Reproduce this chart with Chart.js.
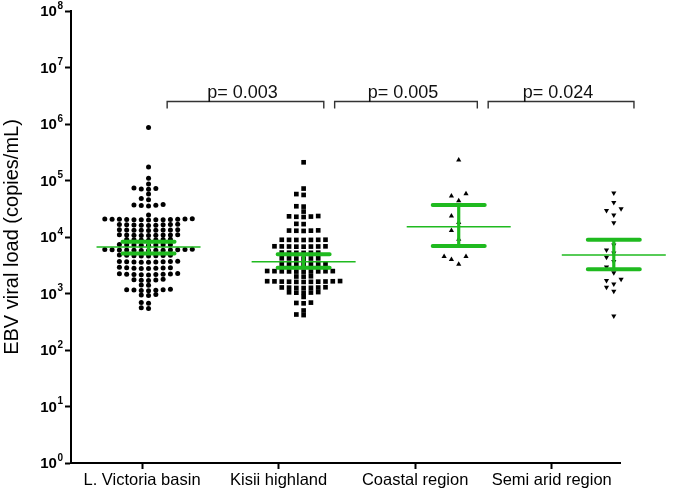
<!DOCTYPE html>
<html>
<head>
<meta charset="utf-8">
<script src="https://cdn.jsdelivr.net/npm/chart.js@4.4.1/dist/chart.umd.min.js"></script>
<style>
html,body{margin:0;padding:0;background:#fff;}
#wrap{width:695px;height:492px;}
</style>
</head>
<body>
<div id="wrap"><canvas id="chart" width="695" height="492"></canvas></div>
<script>
// ---------- data ----------
const regions = ["L. Victoria basin", "Kisii highland", "Coastal region", "Semi arid region"];

const victoriaBasin = [
  540, 560, 670, 690, 920, 940, 960,
  1120, 1130, 1140, 1150, 1160, 1170, 1190, 1400, 1420,
  1700, 1720, 1740, 1760, 1780,
  2130, 2150, 2170, 2180, 2190, 2200, 2220, 2240, 2260,
  2760, 2780, 2800, 2810, 2830, 2850, 2870, 2900,
  3560, 3580, 3600, 3610, 3630, 3650, 3670, 3690, 3720,
  4600, 4630, 4660, 4680, 4700, 4730, 4760, 4800,
  5750, 5780, 5800, 5830, 5850, 5870, 5890, 5910, 5940, 5960, 5990, 6020, 6050,
  7150, 7180, 7200, 7230, 7260, 7290, 7320, 7350,
  8800, 8850, 8900, 8950, 9000, 9050, 9100,
  10600, 10650, 10700, 10750, 10800, 10850, 10900, 10950, 11000,
  13000, 13100, 13150, 13200, 13250, 13300, 13350, 13400, 13500,
  16000, 16100, 16200, 16300, 16400, 16500, 16600, 16700, 16800,
  20000, 20100, 20200, 20250, 20300, 20400, 20500, 20600, 20650, 20700, 20800, 20900, 21000,
  24500, 35500, 36000, 36500, 37000, 37500, 45700, 47900, 57500,
  70000, 71000, 72500, 74000, 87000, 110000, 174000, 870000
];

const kisiiHighland = [
  415, 425, 500, 670, 680, 690, 870,
  1030, 1035, 1040, 1050, 1060,
  1250, 1255, 1260, 1270, 1275, 1280, 1290,
  1600, 1605, 1610, 1615, 1620, 1625, 1630, 1640, 1645, 1650, 1660,
  1990, 2000, 2020,
  2440, 2445, 2450, 2460, 2465, 2470, 2480, 2485, 2490, 2500,
  3280, 3290, 3300, 3310, 3320, 3330, 3340,
  4150, 4160, 4170, 4180, 4190, 4200,
  5230, 5240, 5250, 5270, 5280, 5300,
  6740, 6750, 6770, 6790, 6800, 6820, 6840, 6850,
  8850, 8870, 8880, 8900, 8920, 8930, 8950,
  12800, 12900, 12950, 13000, 13100,
  16900, 17100,
  22600, 22800, 23000, 23200, 23500,
  28200, 34500, 35000, 55500, 57500, 72000, 210000
];

const coastalRegion = [3300, 4000, 4500, 4500, 9100, 13000, 18000, 23500, 44000, 53000, 58000, 230000];

const semiAridRegion = [
  400, 1100, 1290, 1480, 1700, 1780, 2340, 2950, 3700, 4400,
  5200, 5900, 7200, 17800, 24500, 29500, 31600, 40700, 60000
];

const groupMeans = [6650, 3650, 15200, 4800];
const ciUpper = [8260, 4940, 37000, 8900];
const ciLower = [5130, 2860, 6900, 2700];

const pValues = ["p= 0.003", "p= 0.005", "p= 0.024"];

const yTickValues = [1, 10, 100, 1000, 10000, 100000, 1000000, 10000000, 100000000];
const yTickExponents = ["0", "1", "2", "3", "4", "5", "6", "7", "8"];


// ---------- layout / style ----------
const GREEN = "#1fba1f";
const FONT = "'Liberation Sans', Arial, sans-serif";
const swarmStep = 0.047;                     // horizontal step between symbols (data-axis units)
const swarmRow = [0.065, 0.065, 0.16, 0.12]; // row height in decades, per group
const bracketSpans = [[1.12, 2.13], [2.2, 3.12], [3.19, 4.13]];
const bracketLevel = 2.6e6;


// ---------- beeswarm layout ----------
function beeswarm(values, group, rowSize) {

  const sorted = values.slice().sort((a, b) => a - b);
  const pts = [];
  let rowStart = null;
  let n = 0;

  sorted.forEach(v => {
    const lv = Math.log10(v);
    if (rowStart === null || lv - rowStart > rowSize) {
      rowStart = lv;
      n = 0;
    }
    const k = n === 0 ? 0 : (n % 2 ? -Math.ceil(n / 2) : n / 2);
    pts.push({ x: group + k * swarmStep, y: v });
    n++;
  });

  return pts;
}


const groups = [victoriaBasin, kisiiHighland, coastalRegion, semiAridRegion];
const styles = [
  { pointStyle: "circle", radius: 2.5, rotation: 0 },
  { pointStyle: "rect", radius: 3.3, rotation: 0 },
  { pointStyle: "triangle", radius: 3, rotation: 0 },
  { pointStyle: "triangle", radius: 3, rotation: 180 }
];

const datasets = groups.map((vals, i) => ({
  label: regions[i],
  data: beeswarm(vals, i + 1, swarmRow[i]),
  xAxisID: "xd",
  yAxisID: "y",
  pointStyle: styles[i].pointStyle,
  pointRadius: styles[i].radius,
  pointRotation: styles[i].rotation,
  pointBackgroundColor: "#000",
  pointBorderColor: "#000",
  pointBorderWidth: 0,
  showLine: false,
  clip: false
}));


// ---------- overlay: mean / CI bars, brackets, y labels ----------
const overlayPlugin = {

  id: "overlay",

  afterDatasetsDraw(chart) {

    const ctx = chart.ctx;
    const xs = chart.scales.xd;
    const ys = chart.scales.y;

    ctx.save();
    ctx.strokeStyle = GREEN;

    groupMeans.forEach((m, i) => {
      const cx = xs.getPixelForValue(i + 1);
      const yM = ys.getPixelForValue(m);
      const yU = ys.getPixelForValue(ciUpper[i]);
      const yL = ys.getPixelForValue(ciLower[i]);

      ctx.lineCap = "butt";
      ctx.lineWidth = 1.6;
      ctx.beginPath();
      ctx.moveTo(cx - 52, yM);
      ctx.lineTo(cx + 52, yM);
      ctx.stroke();

      ctx.lineWidth = 3.2;
      ctx.beginPath();
      ctx.moveTo(cx, yU);
      ctx.lineTo(cx, yL);
      ctx.stroke();

      ctx.lineCap = "round";
      ctx.lineWidth = 4;
      ctx.beginPath();
      ctx.moveTo(cx - 26, yU);
      ctx.lineTo(cx + 26, yU);
      ctx.moveTo(cx - 26, yL);
      ctx.lineTo(cx + 26, yL);
      ctx.stroke();
    });

    // significance brackets
    const yB = Math.round(ys.getPixelForValue(bracketLevel)) + 0.5;
    ctx.strokeStyle = "#333";
    ctx.lineWidth = 1.4;
    ctx.lineCap = "butt";
    ctx.fillStyle = "#111";
    ctx.font = "18px " + FONT;
    ctx.textAlign = "center";
    ctx.textBaseline = "alphabetic";

    bracketSpans.forEach((s, i) => {
      const x1 = xs.getPixelForValue(s[0]);
      const x2 = xs.getPixelForValue(s[1]);
      ctx.beginPath();
      ctx.moveTo(x1, yB + 7);
      ctx.lineTo(x1, yB);
      ctx.lineTo(x2, yB);
      ctx.lineTo(x2, yB + 7);
      ctx.stroke();
      ctx.fillText(pValues[i], (x1 + x2) / 2 - 3, yB - 4);
    });

    ctx.restore();
  },

  afterDraw(chart) {

    const ctx = chart.ctx;
    const ys = chart.scales.y;
    const right = ys.right - 8;

    ctx.save();
    ctx.fillStyle = "#000";
    ctx.textBaseline = "middle";

    yTickValues.forEach((v, i) => {
      const y = ys.getPixelForValue(v);
      ctx.font = "bold 10px " + FONT;
      ctx.textAlign = "right";
      const ew = ctx.measureText(yTickExponents[i]).width;
      ctx.fillText(yTickExponents[i], right, y - 5);
      ctx.font = "bold 15px " + FONT;
      ctx.fillText("10", right - ew - 0.5, y + 1);
    });

    ctx.restore();
  }
};


// ---------- chart ----------
new Chart(document.getElementById("chart"), {

  type: "scatter",

  data: { datasets },

  options: {
    responsive: false,
    animation: false,
    layout: { padding: { top: 11, right: 75, bottom: 0, left: 0 } },
    plugins: {
      legend: { display: false },
      tooltip: { enabled: false }
    },
    scales: {
      x: {
        type: "linear",
        position: "bottom",
        min: 0.48,
        max: 4.5,
        afterBuildTicks: scale => {
          scale.ticks = regions.map((r, i) => ({ value: i + 1 }));
        },
        afterFit: scale => { scale.height = 29; },
        ticks: {
          autoSkip: false,
          maxRotation: 0,
          padding: 2,
          color: "#000",
          font: { family: FONT, size: 16.5 },
          callback: v => regions[v - 1]
        },
        grid: {
          drawOnChartArea: false,
          drawTicks: true,
          tickLength: 6,
          tickWidth: 2,
          tickColor: "#000"
        },
        border: { display: true, color: "#000", width: 2 }
      },
      xd: {
        type: "linear",
        display: false,
        min: 0.5,
        max: 4.04
      },
      y: {
        type: "logarithmic",
        position: "left",
        min: 1,
        max: 1e8,
        afterBuildTicks: scale => {
          scale.ticks = yTickValues.map(v => ({ value: v, major: true }));
        },
        afterFit: scale => { scale.width = 71; },
        ticks: { display: false },
        grid: {
          drawOnChartArea: false,
          drawTicks: true,
          tickLength: 6,
          tickWidth: 2,
          tickColor: "#000"
        },
        border: { display: true, color: "#000", width: 2 },
        title: {
          display: true,
          text: "EBV viral load (copies/mL)",
          color: "#000",
          padding: { top: 0, bottom: 0 },
          font: { family: FONT, size: 20 }
        }
      }
    }
  },

  plugins: [overlayPlugin]
});
</script>
</body>
</html>
